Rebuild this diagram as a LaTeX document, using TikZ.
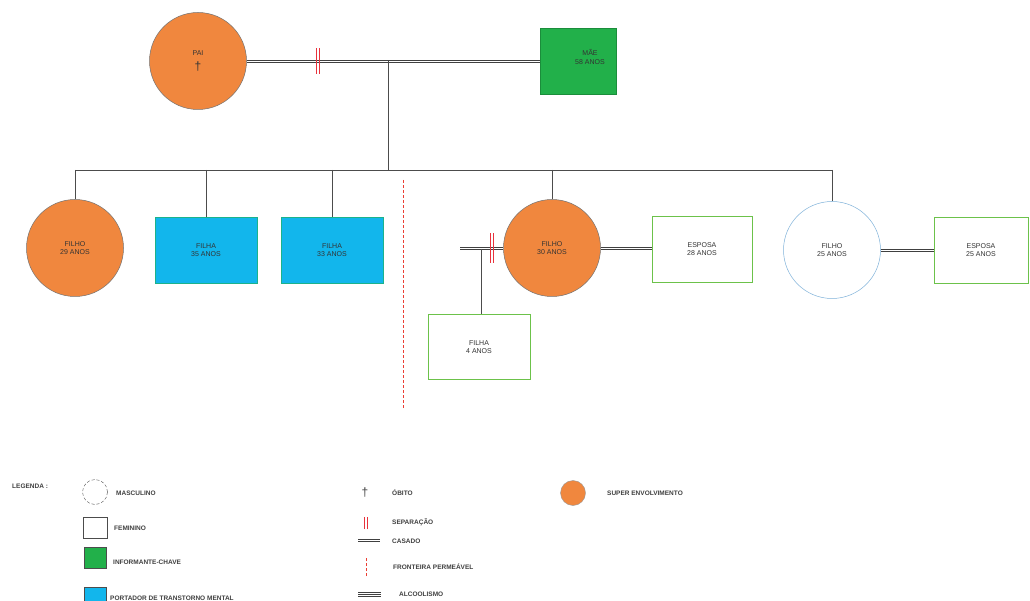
\documentclass[tikz,border=0pt]{standalone}
\usepackage{fontspec}
\setmainfont{Liberation Sans}
\definecolor{orng}{HTML}{F0873E}
\definecolor{grn}{HTML}{22B04A}
\definecolor{cyn}{HTML}{12B6EC}
\definecolor{bgreen}{HTML}{6CC24A}
\definecolor{lblue}{HTML}{7FB2DA}
\definecolor{redm}{HTML}{E8323C}
\tikzset{
  person/.style={circle, minimum size=97pt, inner sep=0pt, draw=black!55, line width=0.5pt,
    font=\fontsize{7}{8.5}\selectfont, align=center, text=black!80},
  fbox/.style={rectangle, minimum width=102pt, minimum height=66pt, inner sep=0pt, draw=bgreen, line width=0.6pt,
    font=\fontsize{7}{8.5}\selectfont, align=center, text=black!80},
  dl/.style={draw=black!75, line width=0.6pt},
  rl/.style={draw=redm, line width=0.7pt},
  kin/.style={draw=black!70, line width=0.7pt},
  front/.style={draw=redm!85!orange, line width=0.7pt, dash pattern=on 3pt off 2pt},
  legtxt/.style={font=\fontsize{6.5}{8}\selectfont\bfseries, text=black!75, anchor=west, inner sep=0pt},
  txt/.style={font=\fontsize{7}{8.5}\selectfont, align=center, text=black!80},
}
% horizontal double line from #1 to the vertical through #2
\newcommand\hdbl[2]{%
  \path (#1) coordinate (tmpa) (#1 -| #2) coordinate (tmpb);
  \draw[dl] ([yshift=1pt]tmpa) -- ([yshift=1pt]tmpb);
  \draw[dl] ([yshift=-1pt]tmpa) -- ([yshift=-1pt]tmpb);}
% red separation mark of half-length #2 at #1
\newcommand\vsepm[2]{%
  \draw[rl] ([xshift=-1.2pt,yshift=-#2]#1) -- ([xshift=-1.2pt,yshift=#2]#1);
  \draw[rl] ([xshift=1.2pt,yshift=-#2]#1) -- ([xshift=1.2pt,yshift=#2]#1);}
\begin{document}
\begin{tikzpicture}[x=1pt,y=-1pt]
\useasboundingbox (0,0) rectangle (1030,601);
\fill[white] (0,0) rectangle (1030,601);

% parents
\node[person, fill=orng] (pai) at (198,61) {PAI\\[5pt]{\fontsize{12}{12}\selectfont †}};
\node[fbox, fill=grn, draw=grn!80!black, minimum width=76pt, minimum height=66pt] (mae) at (578,61) {};
\node[txt] (maetxt) at (590,57) {MÃE\\58 ANOS};
\hdbl{pai.east}{mae.west}
\coordinate (sepA) at (318,61);
\vsepm{sepA}{13pt}
\coordinate (c0) at (388,61);
\coordinate (c1) at (388,170);
\draw[kin] (c0) -- (c1);

% children
\node[person, fill=orng] (f29) at (75,248) {FILHO\\29 ANOS};
\node[fbox, fill=cyn, draw=grn!60!cyn] (fa35) at (206,250) {FILHA\\35 ANOS};
\node[fbox, fill=cyn, draw=grn!60!cyn] (fa33) at (332,250) {FILHA\\33 ANOS};
\node[person, fill=orng] (f30) at (552,248) {FILHO\\30 ANOS};
\node[person, fill=white, draw=lblue] (f25) at (832,250) {FILHO\\25 ANOS};

\coordinate (hl) at (75,170);
\coordinate (hr) at (832,170);
\draw[kin] (hl) -- (hr);
\draw[kin] (hl) -- (f29.north);
\draw[kin] (206,170) -- (fa35.north);
\draw[kin] (332,170) -- (fa33.north);
\draw[kin] (552,170) -- (f30.north);
\draw[kin] (hr) -- (f25.north);

% permeable frontier
\coordinate (fr1) at (403,180);
\coordinate (fr2) at (403,408);
\draw[front] (fr1) -- (fr2);

% FILHO 30 family
\coordinate (exw) at (460,248);
\hdbl{exw}{f30.west}
\coordinate (sepB) at (492,248);
\vsepm{sepB}{15pt}
\node[fbox, fill=white, minimum height=65pt] (fa4) at (479,347) {FILHA\\4 ANOS};
\coordinate (d4) at (481,249);
\draw[kin] (d4) -- (d4 |- fa4.north);
\node[fbox, fill=white, minimum width=100pt] (es28) at (702,249) {ESPOSA\\28 ANOS};
\hdbl{f30.east}{es28.west}

% FILHO 25 family
\node[fbox, fill=white, minimum width=94pt] (es25) at (981,250) {ESPOSA\\25 ANOS};
\hdbl{f25.east}{es25.west}

% legend
\node[legtxt] (leg) at (12,486) {LEGENDA :};
\node[circle, draw=black!70, densely dashed, minimum size=25pt, inner sep=0pt] (lm) at (95,492) {};
\node[legtxt] (lmt) at (116,493) {MASCULINO};
\node[rectangle, draw=black!70, minimum width=24pt, minimum height=21pt, inner sep=0pt] (lf) at (95,528) {};
\node[legtxt] (lft) at (114,528) {FEMININO};
\node[rectangle, draw=black!70, fill=grn, minimum width=22pt, minimum height=21pt, inner sep=0pt] (li) at (95,558) {};
\node[legtxt] (lit) at (113,562) {INFORMANTE-CHAVE};
\node[rectangle, draw=black!70, fill=cyn, minimum width=22pt, minimum height=18pt, inner sep=0pt] (lp) at (95,596) {};
\node[legtxt] (lpt) at (110,598) {PORTADOR DE TRANSTORNO MENTAL};

\node[inner sep=0pt, text=black!75, font=\fontsize{12}{12}\selectfont] (lo) at (365,493) {†};
\node[legtxt] (lot) at (392,493) {ÓBITO};
\coordinate (ls) at (366,523);
\vsepm{ls}{6pt}
\node[legtxt] (lst) at (392,522) {SEPARAÇÃO};
\coordinate (lc1) at (358,540);
\coordinate (lc2) at (380,540);
\hdbl{lc1}{lc2}
\node[legtxt] (lct) at (392,541) {CASADO};
\coordinate (lr) at (366,567);
\draw[front] ([yshift=-9pt]lr) -- ([yshift=9pt]lr);
\node[legtxt] (lrt) at (393,567) {FRONTEIRA PERMEÁVEL};
\coordinate (la1) at (358,594);
\coordinate (la2) at (381,594);
\draw[draw=black!75, line width=0.5pt] ([yshift=-1.8pt]la1) -- ([yshift=-1.8pt]la2);
\draw[draw=black!75, line width=0.5pt] (la1) -- (la2);
\draw[draw=black!75, line width=0.5pt] ([yshift=1.8pt]la1) -- ([yshift=1.8pt]la2);
\node[legtxt] (lat) at (399,594) {ALCOOLISMO};

\node[circle, fill=orng, draw=black!40, minimum size=25pt, inner sep=0pt] (lsu) at (573,493) {};
\node[legtxt] (lsut) at (607,493) {SUPER ENVOLVIMENTO};
\end{tikzpicture}
\end{document}
